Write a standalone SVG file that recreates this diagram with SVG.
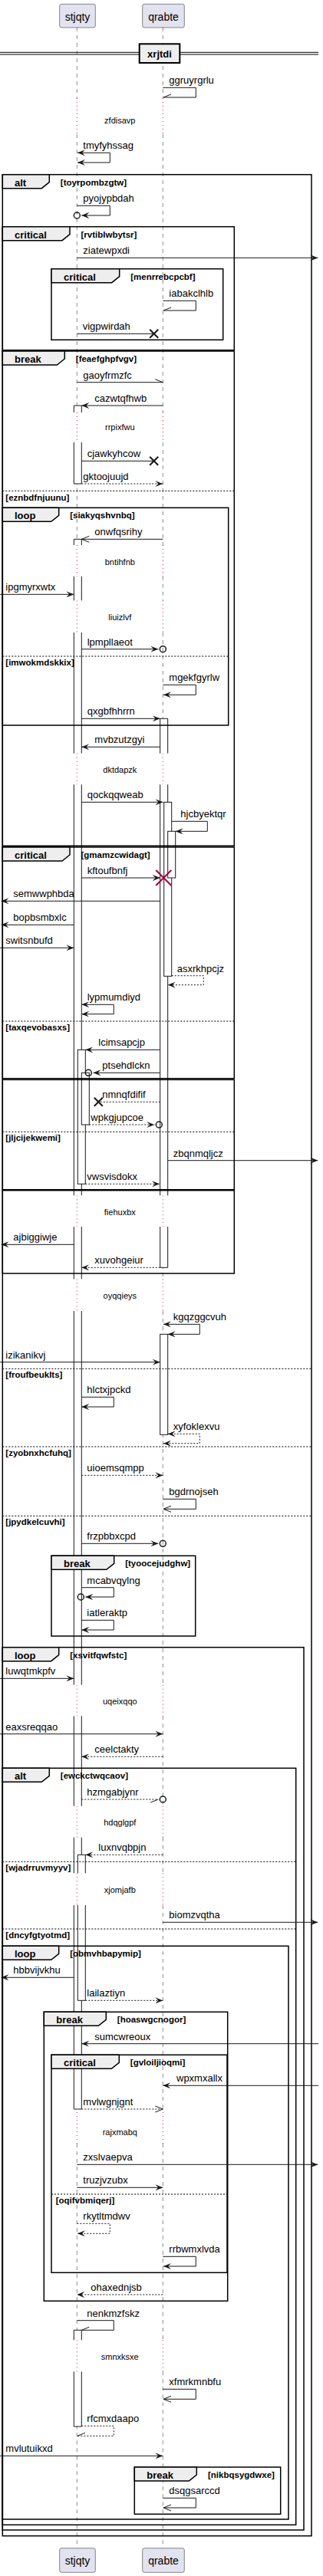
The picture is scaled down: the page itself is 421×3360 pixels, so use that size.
<svg xmlns="http://www.w3.org/2000/svg" width="421" height="3360" viewBox="0 0 421 3360">
<style>
text{font-family:"Liberation Sans",Arial,sans-serif;fill:#000}
.m{font-size:13px}
.d{font-size:11px;text-anchor:middle}
.fl{font-size:13px;font-weight:bold}
.fc{font-size:11.5px;font-weight:bold}
.pt{font-size:14px;text-anchor:middle}
.ll{fill:none;stroke:#181818;stroke-width:0.5;stroke-dasharray:5,5}
.dl{fill:none;stroke:#DC143C;stroke-width:1;stroke-dasharray:1,4}
.bar{fill:#fff;stroke:none}
.bo{fill:none;stroke:#181818;stroke-width:1}
.fr{fill:none;stroke:#000;stroke-width:1.5}
.tab{fill:#EEEEEE;stroke:#000;stroke-width:1.5}
.sep{fill:none;stroke:#000;stroke-width:1;stroke-dasharray:2,2}
.ms{fill:none;stroke:#181818;stroke-width:1}
.md{fill:none;stroke:#181818;stroke-width:1;stroke-dasharray:2,2}
.x{fill:none;stroke:#181818;stroke-width:2}
.xr{fill:none;stroke:#A80036;stroke-width:2}
.ci{fill:none;stroke:#181818;stroke-width:1.5}
.pb{fill:#E2E2F0;stroke:#181818;stroke-width:0.5}
</style>
<defs>
<marker id="af" viewBox="0 0 10 8" refX="10" refY="4" markerWidth="10" markerHeight="8" markerUnits="userSpaceOnUse" orient="auto-start-reverse"><path d="M0,0L10,4L0,8L4,4Z" fill="#181818"/></marker>
<marker id="ao" viewBox="0 0 10 8" refX="10" refY="4" markerWidth="10" markerHeight="8" markerUnits="userSpaceOnUse" orient="auto-start-reverse" style="overflow:visible"><path d="M0,0L10,4L0,8" fill="none" stroke="#181818" stroke-width="1"/></marker>
<marker id="ht" viewBox="0 0 10 8" refX="10" refY="4" markerWidth="10" markerHeight="8" markerUnits="userSpaceOnUse" orient="auto" style="overflow:visible"><path d="M0,0L10,4" fill="none" stroke="#181818" stroke-width="1"/></marker>
<marker id="hb" viewBox="0 0 10 8" refX="10" refY="4" markerWidth="10" markerHeight="8" markerUnits="userSpaceOnUse" orient="auto" style="overflow:visible"><path d="M0,8L10,4" fill="none" stroke="#181818" stroke-width="1"/></marker>
</defs>

<g id="lifelines">
<path class="ll" d="M100.3,36V128M100.3,175V538M100.3,577V711M100.3,751.7V783.3M100.3,825V982.7M100.3,1023.3V1559.3M100.3,1600V1668.3M100.3,1710V2197.7M100.3,2238.3V2355.7M100.3,2396.7V2443.3M100.3,2485V2755M100.3,2796V3052.3M100.3,3093.3V3323.7"/>
<path class="ll" d="M212.3,36V128M212.3,175V538M212.3,577V711M212.3,751.7V783.3M212.3,825V982.7M212.3,1023.3V1559.3M212.3,1600V1668.3M212.3,1710V2197.7M212.3,2238.3V2355.7M212.3,2396.7V2443.3M212.3,2485V2755M212.3,2796V3052.3M212.3,3093.3V3323.7"/>
<path class="dl" d="M100.3,128V175M100.3,538V577M100.3,711V751.7M100.3,783.3V825M100.3,982.7V1023.3M100.3,1559.3V1600M100.3,1668.3V1710M100.3,2197.7V2238.3M100.3,2355.7V2396.7M100.3,2443.3V2485M100.3,2755V2796M100.3,3052.3V3093.3"/>
<path class="dl" d="M212.3,128V175M212.3,538V577M212.3,711V751.7M212.3,783.3V825M212.3,982.7V1023.3M212.3,1559.3V1600M212.3,1668.3V1710M212.3,2197.7V2238.3M212.3,2355.7V2396.7M212.3,2443.3V2485M212.3,2755V2796M212.3,3052.3V3093.3"/>
</g>

<g id="p-stjqty">
<rect class="pb" x="77.7" y="5.3" width="46.6" height="30.7" rx="2.5"/>
<text class="pt" x="101" y="26.5">stjqty</text>
<rect class="pb" x="77.7" y="3323.7" width="46.6" height="31.6" rx="2.5"/>
<text class="pt" x="101" y="3345">stjqty</text>
</g>
<g id="p-qrabte">
<rect class="pb" x="185.7" y="5.3" width="54.6" height="30.7" rx="2.5"/>
<text class="pt" x="213" y="26.5">qrabte</text>
<rect class="pb" x="185.7" y="3323.7" width="54.6" height="31.6" rx="2.5"/>
<text class="pt" x="213" y="3345">qrabte</text>
</g>

<g id="activations">
<rect class="bar" x="96.3" y="529" width="10" height="9"/><rect class="bar" x="96.3" y="577" width="10" height="54"/>
<path class="bo" d="M96.3,538V529H106.3V538M96.3,577V631H106.3V577"/>
<rect class="bar" x="96.3" y="703.3" width="10" height="7.7"/><rect class="bar" x="96.3" y="751.7" width="10" height="31.6"/><rect class="bar" x="96.3" y="825" width="10" height="157.7"/><rect class="bar" x="96.3" y="1023.3" width="10" height="536"/><rect class="bar" x="96.3" y="1600" width="10" height="68.3"/><rect class="bar" x="96.3" y="1710" width="10" height="487.7"/><rect class="bar" x="96.3" y="2238.3" width="10" height="117.4"/><rect class="bar" x="96.3" y="2396.7" width="10" height="46.6"/><rect class="bar" x="96.3" y="2485" width="10" height="266"/>
<path class="bo" d="M96.3,711V703.3H106.3V711M96.3,751.7V783.3M106.3,751.7V783.3M96.3,825V982.7M106.3,825V982.7M96.3,1023.3V1559.3M106.3,1023.3V1559.3M96.3,1600V1668.3M106.3,1600V1668.3M96.3,1710V2197.7M106.3,1710V2197.7M96.3,2238.3V2355.7M106.3,2238.3V2355.7M96.3,2396.7V2443.3M106.3,2396.7V2443.3M96.3,2485V2751H106.3V2485"/>
<rect class="bar" x="96.3" y="3039.3" width="10" height="13"/><rect class="bar" x="96.3" y="3093.3" width="10" height="71.7"/>
<path class="bo" d="M96.3,3052.3V3039.3H106.3V3052.3M96.3,3093.3V3165H106.3V3093.3"/>
<rect class="bar" x="101.3" y="1369.3" width="10" height="175"/><rect class="bo" x="101.3" y="1369.3" width="10" height="175"/>
<rect class="bar" x="101.3" y="2419.3" width="10" height="24"/><rect class="bar" x="101.3" y="2485" width="10" height="124.3"/>
<path class="bo" d="M101.3,2443.3V2419.3H111.3V2443.3M101.3,2485V2609.3H111.3V2485"/>
<rect class="bar" x="106.3" y="1399.3" width="10" height="67.7"/><rect class="bo" x="106.3" y="1399.3" width="10" height="67.7"/>
<rect class="bar" x="208.7" y="937.3" width="10" height="45.4"/><rect class="bar" x="208.7" y="1023.3" width="10" height="536"/><rect class="bar" x="208.7" y="1600" width="10" height="53.3"/>
<path class="bo" d="M208.7,982.7V937.3H218.7V982.7M208.7,1023.3V1559.3M218.7,1023.3V1559.3M208.7,1600V1653.3H218.7V1600"/>
<rect class="bar" x="213.7" y="1046.3" width="10" height="227"/><rect class="bo" x="213.7" y="1046.3" width="10" height="227"/>
<rect class="bar" x="218.7" y="1084.3" width="10" height="60.7"/><rect class="bo" x="218.7" y="1084.3" width="10" height="60.7"/>
<rect class="bar" x="208.7" y="1740.3" width="10" height="131"/><rect class="bo" x="208.7" y="1740.3" width="10" height="131"/>
</g>

<g id="divider">
<path d="M0,68.3H415M0,71H415" stroke="#000" stroke-width="1" fill="none"/>
<rect x="181.7" y="57.3" width="52.6" height="24.7" fill="#EEEEEE" stroke="#000" stroke-width="2"/>
<text class="fl" x="208" y="74.5" text-anchor="middle">xrjtdi</text>
</g>

<g id="frames">
<g id="f-alt-toyrpombzgtw"><rect class="fr" x="3.3" y="227.7" width="402.7" height="3080"/><path class="tab" d="M3.3,227.7H64.3V237.7L54.3,245.7H3.3Z"/><text class="fl" x="19" y="242.7">alt</text><text class="fc" x="78.8" y="241.7">[toyrpombzgtw]</text>
<path class="sep" d="M3.3,1785.3H406M3.3,1887H406M3.3,1977.3H406"/>
<text class="fc" x="7.3" y="1797.3">[froufbeuklts]</text><text class="fc" x="7.3" y="1899">[zyobnxhcfuhq]</text><text class="fc" x="7.3" y="1989.3">[jpydkelcuvhi]</text></g>
<g id="f-critical-rvtiblwbytsr"><rect class="fr" x="3.3" y="295.7" width="302" height="161"/><path class="tab" d="M3.3,295.7H91V305.7L81,313.7H3.3Z"/><text class="fl" x="19" y="310.7">critical</text><text class="fc" x="105.5" y="309.7">[rvtiblwbytsr]</text></g>
<g id="f-critical-menrrebcpcbf"><rect class="fr" x="67" y="350.7" width="223.7" height="92.6"/><path class="tab" d="M67,350.7H155.7V360.7L145.7,368.7H67Z"/><text class="fl" x="83" y="365.7">critical</text><text class="fc" x="170.2" y="364.7">[menrrebcpcbf]</text></g>
<g id="f-break-feaefghpfvgv"><rect class="fr" x="3.3" y="458" width="302" height="645.3"/><path class="tab" d="M3.3,458H84.3V468L74.3,476H3.3Z"/><text class="fl" x="19" y="473">break</text><text class="fc" x="98.8" y="472">[feaefghpfvgv]</text>
<path class="sep" d="M3.3,640.3H305.3"/><text class="fc" x="7.3" y="652.5">[eznbdfnjuunu]</text></g>
<g id="f-loop-siakyqshvnbq"><rect class="fr" x="3.3" y="662.3" width="294.4" height="283.7"/><path class="tab" d="M3.3,662.3H76.7V672.3L66.7,680.3H3.3Z"/><text class="fl" x="19" y="677.3">loop</text><text class="fc" x="91.2" y="676.3">[siakyqshvnbq]</text>
<path class="sep" d="M3.3,856H297.7"/><text class="fc" x="7.3" y="868">[imwokmdskkix]</text></g>
<g id="f-critical-gmamzcwidagt"><rect class="fr" x="3.3" y="1105" width="302" height="301.7"/><path class="tab" d="M3.3,1105H91V1115L81,1123H3.3Z"/><text class="fl" x="19" y="1120">critical</text><text class="fc" x="105.5" y="1119">[gmamzcwidagt]</text>
<path class="sep" d="M3.3,1332H305.3"/><text class="fc" x="7.3" y="1344">[taxqevobasxs]</text></g>
<g id="f-group-jljcijekwemi"><rect class="fr" x="3.3" y="1408.3" width="302" height="143.4"/>
<path class="sep" d="M3.3,1476.3H305.3"/><text class="fc" x="7.3" y="1488.3">[jljcijekwemi]</text></g>
<g id="f-group-fiehuxbx"><rect class="fr" x="3.3" y="1552.7" width="302" height="108.3"/></g>
<g id="f-break-tyoocejudghw"><rect class="fr" x="67" y="2029.3" width="187.7" height="104.7"/><path class="tab" d="M67,2029.3H148.7V2039.3L138.7,2047.3H67Z"/><text class="fl" x="83" y="2044.3">break</text><text class="fc" x="163.2" y="2043.3">[tyoocejudghw]</text></g>
<g id="f-loop-xsvitfqwfstc"><rect class="fr" x="3.3" y="2148.7" width="392.7" height="1151.3"/><path class="tab" d="M3.3,2148.7H76.7V2158.7L66.7,2166.7H3.3Z"/><text class="fl" x="19" y="2163.7">loop</text><text class="fc" x="91.2" y="2162.7">[xsvitfqwfstc]</text></g>
<g id="f-alt-ewckctwqcaov"><rect class="fr" x="3.3" y="2306.3" width="382.4" height="987"/><path class="tab" d="M3.3,2306.3H64.3V2316.3L54.3,2324.3H3.3Z"/><text class="fl" x="19" y="2321.3">alt</text><text class="fc" x="78.8" y="2320.3">[ewckctwqcaov]</text>
<path class="sep" d="M3.3,2428.3H385.7M3.3,2516H385.7"/><text class="fc" x="7.3" y="2440.3">[wjadrruvmyyv]</text><text class="fc" x="7.3" y="2528">[dncyfgtyotmd]</text></g>
<g id="f-loop-obmvhbapymip"><rect class="fr" x="3.3" y="2538.3" width="372.7" height="747.7"/><path class="tab" d="M3.3,2538.3H76.7V2548.3L66.7,2556.3H3.3Z"/><text class="fl" x="19" y="2553.3">loop</text><text class="fc" x="91.2" y="2552.3">[obmvhbapymip]</text></g>
<g id="f-break-hoaswgcnogor"><rect class="fr" x="57.3" y="2624.3" width="239.4" height="377"/><path class="tab" d="M57.3,2624.3H138.3V2634.3L128.3,2642.3H57.3Z"/><text class="fl" x="73.3" y="2639.3">break</text><text class="fc" x="152.8" y="2638.3">[hoaswgcnogor]</text></g>
<g id="f-critical-gvloiljioqmi"><rect class="fr" x="67" y="2680.3" width="229" height="284"/><path class="tab" d="M67,2680.3H155.3V2690.3L145.3,2698.3H67Z"/><text class="fl" x="83" y="2695.3">critical</text><text class="fc" x="169.8" y="2694.3">[gvloiljioqmi]</text>
<path class="sep" d="M67,2862H296"/><text class="fc" x="72.7" y="2874">[oqifvbmiqerj]</text></g>
<g id="f-break-nikbqsygdwxe"><rect class="fr" x="175.3" y="3218" width="190.4" height="61.3"/><path class="tab" d="M175.3,3218H256.3V3228L246.3,3236H175.3Z"/><text class="fl" x="191.3" y="3233">break</text><text class="fc" x="271" y="3232">[nikbqsygdwxe]</text></g>
</g>

<g id="delays">
<text class="d" x="156.3" y="161.2">zfdisavp</text>
<text class="d" x="156.3" y="561.2">rrpixfwu</text>
<text class="d" x="156.3" y="736.8">bntihfnb</text>
<text class="d" x="156.3" y="808.5">liuizlvf</text>
<text class="d" x="156.3" y="1007.8">dktdapzk</text>
<text class="d" x="156.3" y="1584.8">fiehuxbx</text>
<text class="d" x="156.3" y="1694.2">oyqqieys</text>
<text class="d" x="156.3" y="2222.8">uqeixqqo</text>
<text class="d" x="156.3" y="2380.5">hdqglgpf</text>
<text class="d" x="156.3" y="2469.2">xjomjafb</text>
<text class="d" x="156.3" y="2785.2">rajxmabq</text>
<text class="d" x="156.3" y="3077.5">smnxksxe</text>
</g>

<g id="connectors">
<path class="ms" d="M212.3,114.3H255.3V127H213" marker-end="url(#hb)"/>
<path class="ms" d="M101,199.3H143.3V212H101" marker-start="url(#af)" marker-end="url(#af)"/>
<path class="ms" d="M100.3,268.3H143.3V281H106.3" marker-end="url(#af)"/><circle class="ci" cx="100.3" cy="281" r="4"/>
<path class="ms" d="M100.3,336.3H414.3" marker-end="url(#af)"/>
<path class="ms" d="M212.3,392.3H255.3V405H213" marker-end="url(#hb)"/>
<path class="ms" d="M100.3,435.3H200.7"/><path class="x" d="M195.2,429.8L206.2,440.8M195.2,440.8L206.2,429.8"/>
<path class="ms" d="M100.3,498.7H212.3" marker-end="url(#ht)"/>
<path class="ms" d="M212.3,529H106.3" marker-end="url(#af)"/>
<path class="ms" d="M106.3,601.3H200.7"/><path class="x" d="M195.2,595.8L206.2,606.8M195.2,606.8L206.2,595.8"/>
<path class="md" d="M106.3,631H212.3" marker-end="url(#af)"/>
<path class="ms" d="M212.3,703.3H106.3" marker-end="url(#ao)"/>
<path class="ms" d="M0,775.3H96.3" marker-end="url(#af)"/>
<path class="ms" d="M106.3,846.7H206.3" marker-end="url(#af)"/><circle class="ci" cx="212.3" cy="846.7" r="4"/>
<path class="ms" d="M212.3,893.3H255.3V906.3H213" marker-end="url(#af)"/>
<path class="ms" d="M106.3,937.3H208.7" marker-end="url(#af)"/>
<path class="ms" d="M208.7,974.3H106.3" marker-end="url(#af)"/>
<path class="ms" d="M106.3,1046.3H212.5" marker-end="url(#af)"/>
<path class="ms" d="M223.7,1071.3H270.3V1084.3H228.7" marker-end="url(#af)"/>
<path class="ms" d="M106.3,1145H208.7" marker-end="url(#af)"/><path class="xr" d="M203.3,1135L223.3,1155M203.3,1155L223.3,1135"/>
<path class="ms" d="M208.7,1175.3H1.5" marker-end="url(#af)"/>
<path class="ms" d="M96.3,1206.3H1.5" marker-end="url(#af)"/>
<path class="ms" d="M0,1236.3H96.3" marker-end="url(#af)"/>
<path class="md" d="M223.7,1272.7H265.3V1284.7H218.7" marker-end="url(#af)"/>
<path class="ms" d="M106.3,1310.3H148.3V1322.7H106.3" marker-start="url(#af)" marker-end="url(#af)"/>
<path class="ms" d="M208.7,1369.3H111.3" marker-end="url(#af)"/>
<path class="ms" d="M208.7,1399.3H121.5" marker-end="url(#af)"/><circle class="ci" cx="115.3" cy="1399.3" r="4"/>
<path class="md" d="M208.7,1437.3H128.3"/><path class="x" d="M122.8,1431.8L133.8,1442.8M122.8,1442.8L133.8,1431.8"/>
<path class="md" d="M116.3,1467H201.3" marker-end="url(#af)"/><circle class="ci" cx="207.3" cy="1467" r="4"/>
<path class="ms" d="M218.7,1513.7H414.3" marker-end="url(#af)"/>
<path class="md" d="M111.3,1544.3H208" marker-end="url(#af)"/>
<path class="ms" d="M96.3,1623.3H1.5" marker-end="url(#af)"/>
<path class="md" d="M208.7,1653.3H106.3" marker-end="url(#af)"/>
<path class="ms" d="M213,1727.3H260.3V1740.3H218.7" marker-start="url(#af)" marker-end="url(#af)"/>
<path class="ms" d="M0,1776.7H208.7" marker-end="url(#af)"/>
<path class="ms" d="M106.3,1822.3H148.3V1835H106.3" marker-end="url(#af)"/>
<path class="md" d="M218.7,1870.3H260.3V1882.7H213" marker-start="url(#af)" marker-end="url(#af)"/>
<path class="md" d="M106.3,1924.3H212.3" marker-end="url(#af)"/>
<path class="ms" d="M212.3,1955.3H255.3V1968.3H213" marker-end="url(#ao)"/>
<path class="ms" d="M106.3,2013.3H206.3" marker-end="url(#af)"/><circle class="ci" cx="212.3" cy="2013.3" r="4"/>
<path class="ms" d="M106.3,2070.7H148.3V2083H111.3" marker-end="url(#af)"/><circle class="ci" cx="105.3" cy="2083" r="4"/>
<path class="ms" d="M106.3,2113.3H148.3V2126H106.3" marker-end="url(#af)"/>
<path class="ms" d="M0,2189.3H96.3" marker-end="url(#af)"/>
<path class="ms" d="M0,2261.7H212.3" marker-end="url(#af)"/>
<path class="md" d="M212.3,2291.3H106.3" marker-end="url(#af)"/>
<path class="md" d="M106.3,2347H206.3" marker-end="url(#hb)"/><circle class="ci" cx="212.3" cy="2347" r="4"/>
<path class="md" d="M212.3,2419.3H111.3" marker-end="url(#af)"/>
<path class="ms" d="M212.3,2507.3H414.3" marker-end="url(#af)"/>
<path class="ms" d="M96.3,2579.3H1.5" marker-end="url(#af)"/>
<path class="md" d="M111.3,2609.3H212.3" marker-end="url(#af)"/>
<path class="ms" d="M415,2665.7H106.3" marker-end="url(#af)"/>
<path class="ms" d="M415,2720.3H212.3" marker-end="url(#af)"/>
<path class="md" d="M106.3,2751H212.3" marker-end="url(#ao)"/>
<path class="ms" d="M100.3,2823.3H414.3" marker-end="url(#af)"/>
<path class="ms" d="M100.3,2853.3H212.3" marker-end="url(#af)"/>
<path class="md" d="M100.3,2900.3H143.3V2913.3H101" marker-end="url(#af)"/>
<path class="ms" d="M212.3,2943.3H255.3V2956H213" marker-end="url(#af)"/>
<path class="md" d="M212.3,2993H100.3" marker-end="url(#af)"/>
<path class="ms" d="M100.3,3026.7H148.3V3039.3H106.3" marker-end="url(#hb)"/>
<path class="ms" d="M212.3,3116.3H255.3V3129.3H213" marker-end="url(#ao)"/>
<path class="md" d="M106.3,3164.3H148.3V3177.3H101" marker-end="url(#hb)"/>
<path class="ms" d="M0,3203.3H212.3" marker-end="url(#af)"/>
<path class="ms" d="M212.3,3258.3H255.3V3271H213" marker-end="url(#ao)"/>
</g>

<g id="labels">
<text class="m" x="220.3" y="109.3">ggruyrgrlu</text>
<text class="m" x="108.3" y="194.3">tmyfyhssag</text>
<text class="m" x="108.3" y="263.3">pyojypbdah</text>
<text class="m" x="108.3" y="331.3">ziatewpxdi</text>
<text class="m" x="220.3" y="387.3">iabakclhlb</text>
<text class="m" x="107.7" y="430.3">vigpwirdah</text>
<text class="m" x="108.3" y="493.7">gaoyfrmzfc</text>
<text class="m" x="123.3" y="524">cazwtqfhwb</text>
<text class="m" x="113.7" y="596.3">cjawkyhcow</text>
<text class="m" x="108.3" y="626">gktoojuujd</text>
<text class="m" x="123.3" y="698.3">onwfqsrihy</text>
<text class="m" x="7.3" y="770.3">ipgmyrxwtx</text>
<text class="m" x="113.7" y="841.7">lpmpllaeot</text>
<text class="m" x="220.3" y="888.3">mgekfgyrlw</text>
<text class="m" x="113.7" y="932.3">qxgbfhhrrn</text>
<text class="m" x="123.3" y="969.3">mvbzutzgyi</text>
<text class="m" x="113.7" y="1041.3">qockqqweab</text>
<text class="m" x="235.3" y="1066.3">hjcbyektqr</text>
<text class="m" x="113.7" y="1140">kftoufbnfj</text>
<text class="m" x="17.3" y="1170.3">semwwphbda</text>
<text class="m" x="17.3" y="1201.3">bopbsmbxlc</text>
<text class="m" x="7.3" y="1231.3">switsnbufd</text>
<text class="m" x="230.7" y="1267.7">asxrkhpcjz</text>
<text class="m" x="113.7" y="1305.3">lypmumdiyd</text>
<text class="m" x="128.3" y="1364.3">lcimsapcjp</text>
<text class="m" x="133.3" y="1394.3">ptsehdlckn</text>
<text class="m" x="133.3" y="1432.3">nmnqfdifif</text>
<text class="m" x="118.3" y="1462">wpkgjupcoe</text>
<text class="m" x="225.7" y="1508.7">zbqnmqljcz</text>
<text class="m" x="113.3" y="1539.3">vwsvisdokx</text>
<text class="m" x="17.3" y="1618.3">ajbiggiwje</text>
<text class="m" x="123.3" y="1648.3">xuvohgeiur</text>
<text class="m" x="225.7" y="1722.3">kgqzggcvuh</text>
<text class="m" x="7.3" y="1771.7">izikanikvj</text>
<text class="m" x="113.3" y="1817.3">hlctxjpckd</text>
<text class="m" x="225.7" y="1865.3">xyfoklexvu</text>
<text class="m" x="113.3" y="1919.3">uioemsqmpp</text>
<text class="m" x="220.3" y="1950.3">bgdrnojseh</text>
<text class="m" x="113.3" y="2008.3">frzpbbxcpd</text>
<text class="m" x="113.3" y="2065.7">mcabvqylng</text>
<text class="m" x="113.3" y="2108.3">iatleraktp</text>
<text class="m" x="7.3" y="2184.3">luwqtmkpfv</text>
<text class="m" x="7.3" y="2256.7">eaxsreqqao</text>
<text class="m" x="123.3" y="2286.3">ceelctakty</text>
<text class="m" x="113.3" y="2342">hzmgabjynr</text>
<text class="m" x="128.3" y="2414.3">luxnvqbpjn</text>
<text class="m" x="220.3" y="2502.3">biomzvqtha</text>
<text class="m" x="17.3" y="2574.3">hbbvijvkhu</text>
<text class="m" x="113.3" y="2604.3">lailaztiyn</text>
<text class="m" x="123.3" y="2660.7">sumcwreoux</text>
<text class="m" x="230" y="2715.3">wpxmxallx</text>
<text class="m" x="108.3" y="2746">mvlwgnjgnt</text>
<text class="m" x="108.3" y="2818.3">zxslvaepva</text>
<text class="m" x="108.3" y="2848.3">truzjvzubx</text>
<text class="m" x="108.3" y="2895.3">rkytltmdwv</text>
<text class="m" x="220.3" y="2938.3">rrbwmxlvda</text>
<text class="m" x="118.3" y="2988">ohaxednjsb</text>
<text class="m" x="113.3" y="3021.7">nenkmzfskz</text>
<text class="m" x="220.3" y="3111.3">xfmrkmnbfu</text>
<text class="m" x="113.3" y="3159.3">rfcmxdaapo</text>
<text class="m" x="7.3" y="3198.3">mvlutuikxd</text>
<text class="m" x="220.3" y="3253.3">dsqgsarccd</text>
</g>
</svg>
